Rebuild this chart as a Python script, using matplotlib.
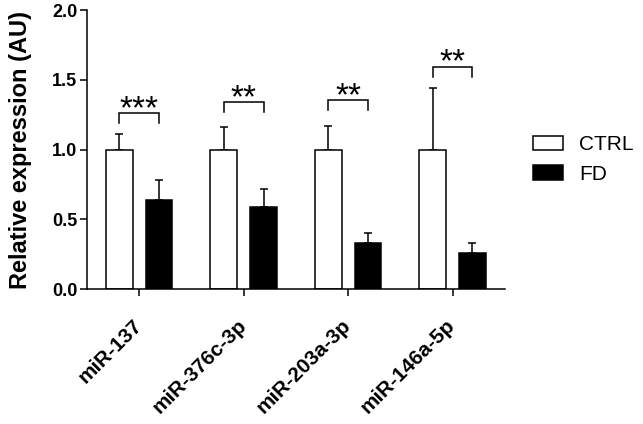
import matplotlib
matplotlib.use("Agg")
import matplotlib.pyplot as plt
import matplotlib.transforms as mtransforms
import numpy as np
from matplotlib.patches import Patch

plt.rcParams['font.family'] = ['Liberation Sans', 'DejaVu Sans']

categories = ["miR-137", "miR-376c-3p", "miR-203a-3p", "miR-146a-5p"]
ctrl_vals = [1.0, 1.0, 1.0, 1.0]
ctrl_err = [0.11, 0.16, 0.17, 0.44]
fd_vals = [0.64, 0.59, 0.33, 0.26]
fd_err = [0.14, 0.13, 0.07, 0.07]
sig_labels = ["***", "**", "**", "**"]
bracket_y = [1.26, 1.34, 1.355, 1.594]
yticks = [0.0, 0.5, 1.0, 1.5, 2.0]

fig = plt.figure(figsize=(6.43, 4.24), dpi=100)
ax = fig.add_axes([0.1353, 0.318, 0.785 - 0.1353, 0.976 - 0.318])

x = np.arange(len(categories))
w = 0.257
off = 0.19
lw = 1.1

ax.bar(x - off, ctrl_vals, w, color='white', edgecolor='black', linewidth=lw, zorder=2)
ax.bar(x + off, fd_vals, w, color='black', edgecolor='black', linewidth=lw, zorder=2)
ax.errorbar(x - off, ctrl_vals, yerr=[np.zeros(4), ctrl_err], fmt='none', ecolor='black',
            elinewidth=lw, capsize=3, capthick=lw, zorder=1)
ax.errorbar(x + off, fd_vals, yerr=[np.zeros(4), fd_err], fmt='none', ecolor='black',
            elinewidth=lw, capsize=3, capthick=lw, zorder=1)

drop = 0.07
for i in range(len(categories)):
    by = bracket_y[i]
    ax.plot([x[i] - off, x[i] - off, x[i] + off, x[i] + off], [by - drop, by, by, by - drop],
            color='black', lw=lw, solid_joinstyle='miter')
    ax.text(x[i], by - 0.035, sig_labels[i], ha='center', va='baseline', fontsize=24)

ax.set_xlim(-0.5, 3.5)
ax.set_ylim(0, 2.0)
ax.set_yticks(yticks)
ax.set_yticklabels([f"{t:.1f}" for t in yticks], fontsize=13, fontweight='bold')
ax.set_xticks(x)
ax.set_xticklabels([])
shift = mtransforms.ScaledTranslation(-5 / 72, -19 / 72, fig.dpi_scale_trans)
for i, cat in enumerate(categories):
    ax.text(x[i], 0, cat, transform=ax.get_xaxis_transform() + shift, rotation=45,
            ha='right', va='top', rotation_mode='anchor', fontsize=15, fontweight='bold',
            clip_on=False)
ax.set_ylabel("Relative expression (AU)", fontsize=17, fontweight='bold', labelpad=14)

for s in ['top', 'right']:
    ax.spines[s].set_visible(False)
for s in ['left', 'bottom']:
    ax.spines[s].set_linewidth(1.1)
ax.tick_params(axis='both', length=5, width=1.1, direction='out')
ax.tick_params(axis='y', pad=2)

handles = [Patch(facecolor='white', edgecolor='black', linewidth=lw, label='CTRL'),
           Patch(facecolor='black', edgecolor='black', linewidth=lw, label='FD')]
fig.legend(handles=handles, loc='upper left', bbox_to_anchor=(0.829, 0.681), frameon=False,
           fontsize=15, handlelength=1.45, handleheight=0.72, handletextpad=0.75,
           labelspacing=0.5, borderpad=0, borderaxespad=0)

fig.savefig("out.png", dpi=100)
